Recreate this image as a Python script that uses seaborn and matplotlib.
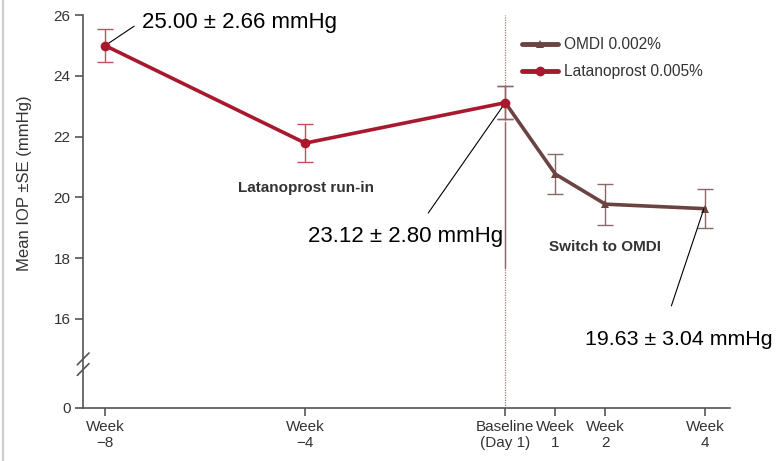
import matplotlib
matplotlib.use("Agg")
import matplotlib.pyplot as plt
import seaborn as sns
import pandas as pd

# Study visits (weeks relative to baseline) and mean IOP ± SE
lat_weeks = [-8, -4, 0]
lat_iop = [25.00, 21.79, 23.12]
lat_se = [0.55, 0.62, 0.54]

omdi_weeks = [0, 1, 2, 4]
omdi_iop = [23.12, 20.77, 19.78, 19.63]
omdi_se = [0.54, 0.67, 0.67, 0.64]

tick_weeks = [-8, -4, 0, 1, 2, 4]
tick_labels = ["Week\n\u22128", "Week\n\u22124", "Baseline\n(Day 1)", "Week\n1", "Week\n2", "Week\n4"]

y_ticks = [16, 18, 20, 22, 24, 26]
y_zero_pos = 13.07  # where the broken axis shows "0"

lat_color = "#a8192e"
omdi_color = "#6b4340"

sns.set_style("white")
plt.rcParams["font.family"] = ["Liberation Sans", "DejaVu Sans"]

fig = plt.figure(figsize=(7.77, 4.61), dpi=100)
ax = fig.add_axes([0.107, 0.115, 0.833, 0.852])

lat_df = pd.DataFrame({"week": lat_weeks, "iop": lat_iop, "se": lat_se})
omdi_df = pd.DataFrame({"week": omdi_weeks, "iop": omdi_iop, "se": omdi_se})

# baseline divider: dotted full height with a solid middle segment
ax.axvline(0, color="#a07d78", lw=0.9, ls=(0, (1, 1)), zorder=1)
ax.plot([0, 0], [17.68, 22.5], color="#8a6a66", lw=1.0, zorder=1)

ax.errorbar(lat_df["week"], lat_df["iop"], yerr=lat_df["se"], fmt="none",
            ecolor="#c4505f", elinewidth=1.0, capsize=6, capthick=1.0, zorder=2)
ax.errorbar(omdi_df["week"], omdi_df["iop"], yerr=omdi_df["se"], fmt="none",
            ecolor="#8a6a66", elinewidth=1.0, capsize=6, capthick=1.0, zorder=2)

sns.lineplot(data=omdi_df, x="week", y="iop", ax=ax, color=omdi_color, lw=2.6,
             marker="^", markersize=6, markeredgewidth=0, label="OMDI 0.002%", zorder=3)
sns.lineplot(data=lat_df, x="week", y="iop", ax=ax, color=lat_color, lw=2.6,
             marker="o", markersize=7, markeredgewidth=0, label="Latanoprost 0.005%", zorder=4)

ax.set_xlim(-8.44, 4.5)
ax.set_ylim(y_zero_pos, 26)
ax.set_xticks(tick_weeks)
ax.set_xticklabels(tick_labels, fontsize=11, color="#333333", linespacing=1.15)
ax.set_yticks([y_zero_pos] + y_ticks)
ax.set_yticklabels(["0"] + [str(v) for v in y_ticks], fontsize=11, color="#333333")
ax.tick_params(axis="both", direction="out", length=6, width=1.2, color="#555555",
               left=True, bottom=True, pad=3)
ax.set_xlabel("")
ax.set_ylabel("Mean IOP \u00b1SE (mmHg)", fontsize=12, color="#333333")
ax.yaxis.set_label_coords(-0.079, 0.573)
sns.despine(ax=ax)
for s in ("left", "bottom"):
    ax.spines[s].set_color("#555555")
    ax.spines[s].set_linewidth(1.2)

# axis break marks
for yc in (0.125, 0.098):
    ax.plot([-0.009, 0.009], [yc - 0.015, yc + 0.015],
            transform=ax.transAxes, color="#555555", lw=1.2, clip_on=False)

# value callouts
line_kw = dict(arrowstyle="-", color="black", lw=0.8, shrinkA=0, shrinkB=0)
ax.annotate("", xy=(-8, 25.00), xytext=(-7.42, 25.64), arrowprops=line_kw)
ax.text(-7.26, 25.77, "25.00 \u00b1 2.66 mmHg", fontsize=16, color="black", va="center", ha="left")
ax.annotate("", xy=(0, 23.12), xytext=(-1.54, 19.49), arrowprops=line_kw)
ax.text(-3.94, 18.73, "23.12 \u00b1 2.80 mmHg", fontsize=16, color="black", va="center", ha="left")
ax.annotate("", xy=(3.97, 19.63), xytext=(3.32, 16.43), arrowprops=line_kw)
ax.text(1.6, 15.31, "19.63 \u00b1 3.04 mmHg", fontsize=15.4, color="black", va="center", ha="left")

ax.text(-5.34, 20.31, "Latanoprost run-in", fontsize=11, fontweight="bold", color="#333333",
        ha="left", va="center")
ax.text(0.88, 18.37, "Switch to OMDI", fontsize=11, fontweight="bold", color="#333333",
        ha="left", va="center")

leg = ax.legend(loc="upper left", bbox_to_anchor=(0.656, 0.979), frameon=False,
                fontsize=11.2, handlelength=2.3, handletextpad=0.4, labelspacing=0.76)
for t in leg.get_texts():
    t.set_color("#333333")
for h in leg.get_lines():
    h.set_linewidth(3.5)

# left edge rule of the panel
fig.add_artist(plt.Line2D([0.004, 0.004], [0, 1], color="#cccccc", lw=1.5))

fig.savefig("out.png", dpi=100)
